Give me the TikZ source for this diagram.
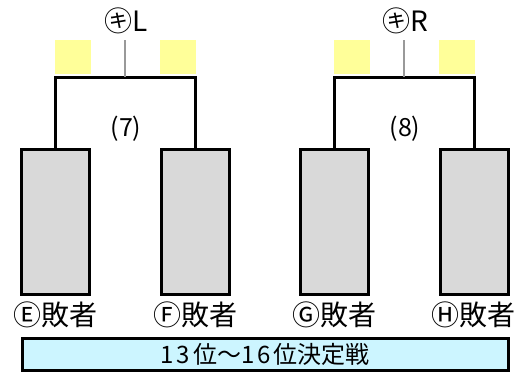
\documentclass[tikz,border=0pt]{standalone}
\usepackage{fontspec}
\setmainfont{Noto Sans CJK JP}
\definecolor{boxgray}{HTML}{D9D9D9}
\definecolor{padyellow}{HTML}{FFFF99}
\definecolor{bandblue}{HTML}{CCF5FF}
\definecolor{stemgray}{HTML}{999999}
\tikzset{
  loserbox/.style={draw=black, line width=3pt, fill=boxgray, minimum width=68pt, minimum height=145pt, inner sep=0pt},
  pad/.style={fill=padyellow, minimum width=36pt, minimum height=34pt, inner sep=0pt},
  bracketline/.style={line width=3pt, line cap=rect},
  stem/.style={draw=stemgray, line width=2pt},
  lbl/.style={inner sep=0pt, font=\fontsize{28}{30}\selectfont},
  matchlbl/.style={inner sep=0pt, font=\fontsize{25}{28}\selectfont},
  band/.style={draw=black, line width=3pt, fill=bandblue, minimum width=486pt, minimum height=32pt, inner sep=0pt, font=\fontsize{24}{26}\selectfont}
}
\begin{document}
\begin{tikzpicture}[x=1pt, y=-1pt]
\useasboundingbox (0,0) rectangle (517,373);
% yellow pads
\node[pad] (p1) at (73,57) {};
\node[pad] (p2) at (178,57) {};
\node[pad] (p3) at (352,57) {};
\node[pad] (p4) at (457,57) {};
% top labels
\node[lbl] (kl) at (126,21) {㋖L};
\node[lbl] (kr) at (405,21) {㋖R};
\coordinate (sl) at (125,40);
\coordinate (sr) at (404,40);
\coordinate (tl) at (125,77);
\coordinate (tr) at (404,77);
% loser boxes
\node[loserbox] (be) at (55.5,222) {};
\node[loserbox] (bf) at (195.5,222) {};
\node[loserbox] (bg) at (334,222) {};
\node[loserbox] (bh) at (474.5,222) {};
% brackets
\draw[bracketline] (be.north) |- (tl) -| (bf.north);
\draw[bracketline] (bg.north) |- (tr) -| (bh.north);
\draw[stem] (sl) -- (tl);
\draw[stem] (sr) -- (tr);
% match numbers
\node[matchlbl] (m7) at (126,129) {(7)};
\node[matchlbl] (m8) at (405,129) {(8)};
% loser labels
\node[lbl] (le) at (55.5,315) {Ⓔ敗者};
\node[lbl] (lf) at (195.5,315) {Ⓕ敗者};
\node[lbl] (lg) at (334,315) {Ⓖ敗者};
\node[lbl] (lh) at (473.5,315) {Ⓗ敗者};
% band
\node[band] (bd) at (265,354.5) {1\kern3pt3\kern3pt位〜1\kern3pt6\kern3pt位決定戦};
\end{tikzpicture}
\end{document}
